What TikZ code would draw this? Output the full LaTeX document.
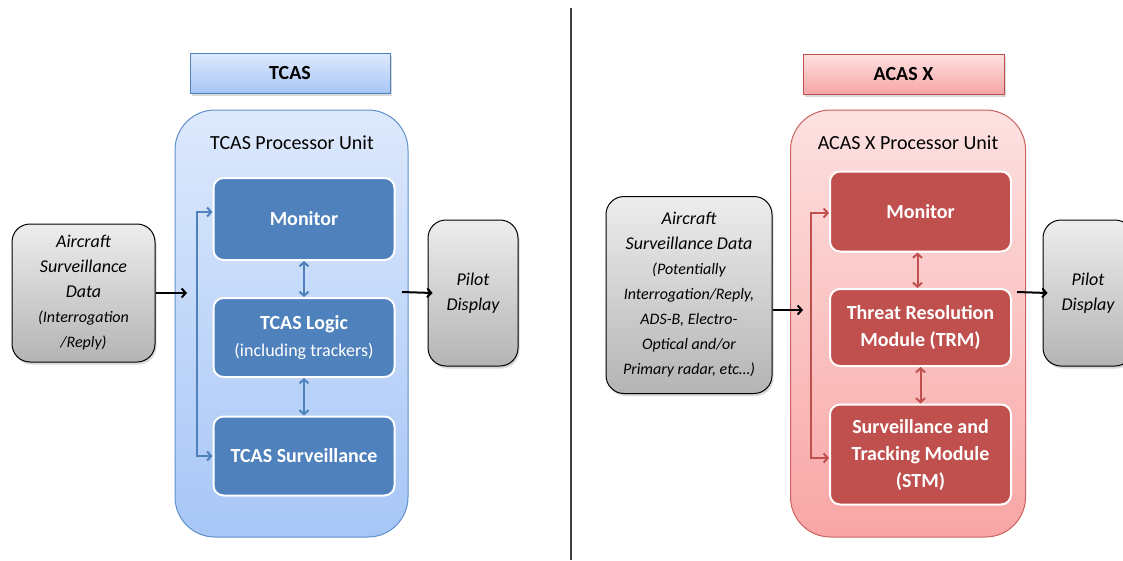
\documentclass[tikz,border=0pt]{standalone}
\usepackage{fontspec}
\setmainfont{Carlito}
\usetikzlibrary{arrows.meta,shadows}
\definecolor{tblue}{HTML}{4F81BD}
\definecolor{tbluetop}{HTML}{DDE9FC}
\definecolor{tbluebot}{HTML}{A7C6F6}
\definecolor{tblueline}{HTML}{6190CB}
\definecolor{ared}{HTML}{C0504D}
\definecolor{aredtop}{HTML}{FDE1E1}
\definecolor{aredbot}{HTML}{F8A6A5}
\definecolor{aredline}{HTML}{CB625F}
\definecolor{iotop}{HTML}{EDEDED}
\definecolor{iobot}{HTML}{B4B4B4}

\begin{document}
\begin{tikzpicture}[x=1pt,y=-1pt,>={Straight Barb[length=4pt,width=9pt]},
  title node/.style={draw,line width=1pt,minimum width=200pt,minimum height=40pt,inner sep=0pt,font=\fontsize{20}{24}\selectfont\bfseries,drop shadow={shadow xshift=1.5pt,shadow yshift=-2.5pt,opacity=0.3}},
  unit node/.style={draw,line width=1pt,rounded corners=40pt,inner sep=0pt,minimum height=427pt},
  unit label/.style={font=\fontsize{20}{24}\selectfont,inner sep=0pt},
  part node/.style={draw=white,line width=2pt,rounded corners=10pt,minimum width=181pt,inner sep=0pt,text=white,align=center,font=\fontsize{20}{27}\selectfont\bfseries},
  io node/.style={draw=black,line width=1pt,rounded corners=18pt,top color=iotop,bottom color=iobot,inner sep=0pt,align=center,font=\fontsize{18}{25}\selectfont\itshape,drop shadow={shadow xshift=1.5pt,shadow yshift=-2.5pt,opacity=0.3}},
  flow/.style={->,line width=2pt,black},
  link/.style={<->,line width=2pt}]

  \useasboundingbox (0,0) rectangle (1123,560);

  % TCAS side
  \node[title node,tblue,text=black,top color=tbluetop,bottom color=tbluebot] (tcas) at (290,73.5) {TCAS};
  \node[unit node,tblueline,top color=tbluetop,bottom color=tbluebot,minimum width=233pt] (unit1) at (291.5,323.5) {};
  \node[unit label] (unit1 label) at (292,143) {TCAS Processor Unit};
  \node[part node,fill=tblue,minimum height=82pt] (mon1) at (304,219) {Monitor};
  \node[part node,fill=tblue,minimum height=79pt] (logic1) at (304,337.5) {TCAS Logic\\{\fontsize{18}{27}\selectfont\mdseries(including trackers)}};
  \node[part node,fill=tblue,minimum height=79pt] (surv1) at (304,456) {TCAS Surveillance};
  \node[io node,minimum width=143pt,minimum height=138pt] (in1) at (83.5,293) {Aircraft\\Surveillance\\Data\\{\fontsize{16}{25}\selectfont(Interrogation}\\{\fontsize{16}{25}\selectfont/Reply)}};
  \node[io node,minimum width=90pt,minimum height=146pt] (pilot1) at (473,293) {Pilot\\Display};

  \coordinate (in1 tip) at (187,293);
  \coordinate (out1) at (402,292);
  \draw[flow] (in1.east) -- (in1 tip);
  \draw[flow] (out1) -- ([xshift=5pt]pilot1.west);
  \draw[link,tblue] (mon1) -- (logic1);
  \draw[link,tblue] (logic1) -- (surv1);
  \draw[link,tblue] ([yshift=7pt]mon1.west) -- ++(-16,0) |- (surv1.west);

  % divider
  \coordinate (div top) at (571,8);
  \coordinate (div bot) at (571,560);
  \draw[line width=1.5pt,black!75] (div top) -- (div bot);

  % ACAS X side
  \node[title node,ared,text=black,top color=aredtop,bottom color=aredbot,minimum width=201pt] (acas) at (903.5,74) {ACAS X};
  \node[unit node,aredline,top color=aredtop,bottom color=aredbot,minimum width=235pt] (unit2) at (908,323.5) {};
  \node[unit label] (unit2 label) at (908,143) {ACAS X Processor Unit};
  \node[part node,fill=ared,minimum height=80pt] (mon2) at (920.5,211.5) {Monitor};
  \node[part node,fill=ared,minimum height=77pt] (trm2) at (920.5,327.5) {Threat Resolution\\Module (TRM)};
  \node[part node,fill=ared,minimum height=100pt] (stm2) at (920.5,454.5) {Surveillance and\\Tracking Module\\(STM)};
  \node[io node,minimum width=166pt,minimum height=197pt] (in2) at (689,295) {Aircraft\\Surveillance Data\\{\fontsize{16}{24}\selectfont(Potentially}\\{\fontsize{16}{24}\selectfont Interrogation/Reply,}\\{\fontsize{16}{24}\selectfont ADS-B, Electro-}\\{\fontsize{16}{24}\selectfont Optical and/or}\\{\fontsize{16}{24}\selectfont Primary radar, etc…)}};
  \node[io node,minimum width=90pt,minimum height=146pt] (pilot2) at (1088,293) {Pilot\\Display};

  \coordinate (in2 tip) at (803,310);
  \coordinate (out2) at (1017,292);
  \draw[flow] ([yshift=-15pt]in2.east) -- (in2 tip);
  \draw[flow] (out2) -- ([xshift=5pt]pilot2.west);
  \draw[link,ared] ([xshift=-3pt]mon2.south) -- ([xshift=-3pt]trm2.north);
  \draw[link,ared] (trm2) -- (stm2);
  \draw[link,ared] ([yshift=-1.5pt]mon2.west) -- ++(-18,0) |- ([yshift=-3.5pt]stm2.west);
\end{tikzpicture}
\end{document}
